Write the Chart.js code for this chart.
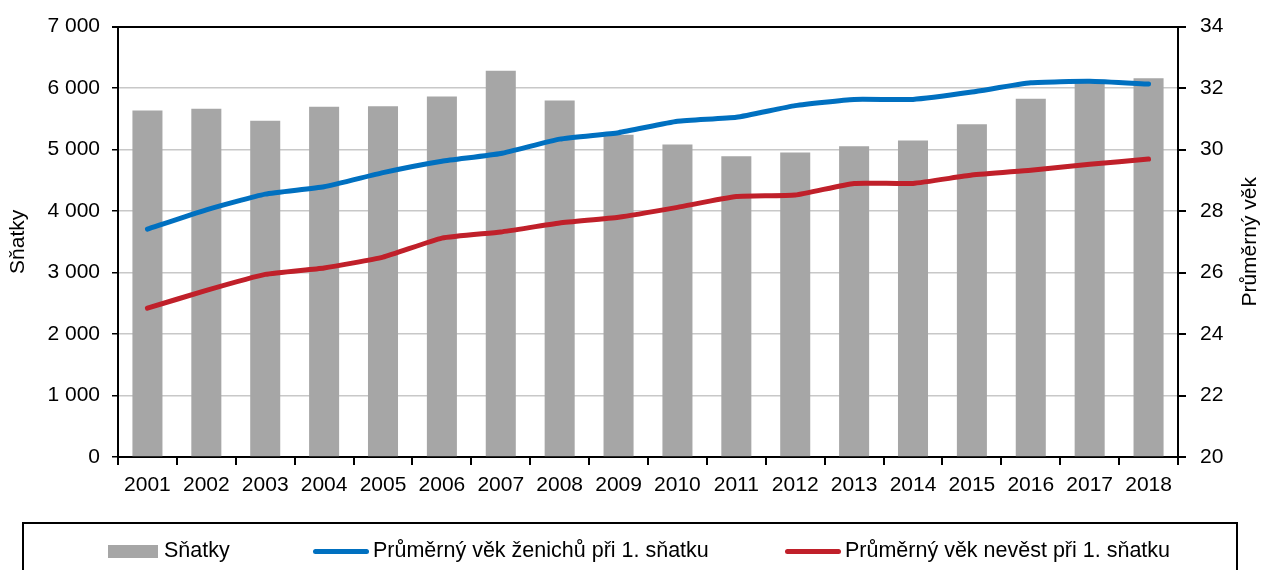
<!DOCTYPE html>
<html lang="cs">
<head>
<meta charset="utf-8">
<script src="https://cdn.jsdelivr.net/npm/chart.js@4.4.1/dist/chart.umd.min.js"></script>
<style>
  body { margin: 0; background: #fff; }
  #wrap { position: relative; width: 1263px; height: 570px; overflow: hidden; }
  #legend { position: absolute; left: 22px; top: 522px; width: 1216px; height: 70px; border: 2px solid #000; box-sizing: border-box; font-family: "Liberation Sans", Arial, sans-serif; font-size: 21.5px; color: #000; }
  .item { position: absolute; top: 13px; white-space: nowrap; line-height: 26px; }
  .mark { display: inline-block; vertical-align: middle; margin-right: 5px; }
</style>
</head>
<body>
<div id="wrap">
  <canvas id="chart" width="1263" height="570"></canvas>
  <div id="legend"></div>
</div>
<script>
// data
const years = ['2001', '2002', '2003', '2004', '2005', '2006', '2007', '2008', '2009',
    '2010', '2011', '2012', '2013', '2014', '2015', '2016', '2017', '2018'];
const snatky = [5637, 5663, 5469, 5695, 5706, 5863, 6283, 5799, 5243,
    5081, 4893, 4952, 5055, 5146, 5411, 5825, 6090, 6159];
const vekZenichu = [27.41, 28.04, 28.55, 28.79, 29.25, 29.62, 29.87, 30.34, 30.55,
    30.92, 31.05, 31.43, 31.63, 31.63, 31.87, 32.17, 32.22, 32.13];
const vekNevest = [24.84, 25.42, 25.94, 26.15, 26.5, 27.12, 27.32, 27.61, 27.80,
    28.12, 28.47, 28.52, 28.90, 28.90, 29.17, 29.33, 29.52, 29.69];
const labels = ['Sňatky', 'Průměrný věk ženichů při 1. sňatku', 'Průměrný věk nevěst při 1. sňatku'];
const leftTitle = 'Sňatky';
const rightTitle = 'Průměrný věk';

Chart.defaults.font.family = '"Liberation Sans", Arial, sans-serif';
Chart.defaults.font.size = 21;
Chart.defaults.color = '#000';

// right axis title reads bottom-to-top, chart.js would rotate it the other way
const rightTitlePlugin = {
    id: 'rightTitle',
    afterDraw(chart) {
        const ctx = chart.ctx;
        const area = chart.chartArea;
        ctx.save();
        ctx.translate(1250, (area.top + area.bottom) / 2);
        ctx.rotate(-Math.PI / 2);
        ctx.font = '21px "Liberation Sans", Arial, sans-serif';
        ctx.fillStyle = '#000';
        ctx.textAlign = 'center';
        ctx.textBaseline = 'middle';
        ctx.fillText(rightTitle, 0, 0);
        ctx.restore();
    }
};

const data = {
    labels: years,
    datasets: [{
        type: 'bar',
        label: labels[0],
        data: snatky,
        backgroundColor: '#a6a6a6',
        yAxisID: 'y',
        order: 2,
        barPercentage: 0.51,
        categoryPercentage: 1
    }, {
        type: 'line',
        label: labels[1],
        data: vekZenichu,
        borderColor: '#0070c0',
        borderWidth: 5,
        borderCapStyle: 'round',
        pointRadius: 0,
        tension: 0.15,
        yAxisID: 'y1',
        order: 1
    }, {
        type: 'line',
        label: labels[2],
        data: vekNevest,
        borderColor: '#c0202a',
        borderWidth: 5,
        borderCapStyle: 'round',
        pointRadius: 0,
        tension: 0.15,
        yAxisID: 'y1',
        order: 0
    }]
};

const config = {
    data: data,
    plugins: [rightTitlePlugin],
    options: {
        responsive: false,
        animation: false,
        layout: { padding: { top: 24, left: 0, right: 0, bottom: 0 } },
        plugins: {
            legend: { display: false },
            tooltip: { enabled: false }
        },
        scales: {
            x: {
                border: { color: '#000', width: 2 },
                grid: { offset: true, drawOnChartArea: false, tickColor: '#000', tickLength: 8, lineWidth: 2 },
                ticks: { padding: 8, maxRotation: 0, autoSkip: false },
                afterFit(scale) { scale.height = 113; }
            },
            y: {
                position: 'left',
                min: 0,
                max: 7000,
                border: { color: '#000', width: 2 },
                grid: {
                    color: (c) => c.tick && c.tick.value === 7000 ? '#000' : '#c8c8c8',
                    lineWidth: (c) => c.tick && c.tick.value === 7000 ? 2 : 1.5,
                    tickColor: '#000',
                    tickLength: 6
                },
                ticks: {
                    stepSize: 1000,
                    padding: 12,
                    callback: (v) => String(v).replace(/\B(?=(\d{3})+(?!\d))/g, ' ')
                },
                title: { display: true, text: leftTitle, padding: { top: 6, bottom: 0 } },
                afterFit(scale) { scale.width = 118; }
            },
            y1: {
                position: 'right',
                min: 20,
                max: 34,
                border: { color: '#000', width: 2 },
                grid: { drawOnChartArea: false, tickColor: '#000', tickLength: 8, lineWidth: 2 },
                ticks: { stepSize: 2, padding: 14 },
                afterFit(scale) { scale.width = 85; }
            }
        }
    }
};

const myChart = new Chart(document.getElementById('chart').getContext('2d'), config);

// legend built from the dataset settings
const legend = document.getElementById('legend');
const itemLeft = [84, 289, 761];
data.datasets.forEach((ds, i) => {
    const item = document.createElement('div');
    item.className = 'item';
    item.style.left = itemLeft[i] + 'px';
    const mark = document.createElement('span');
    mark.className = 'mark';
    if (ds.type === 'bar') {
        mark.style.width = '50px';
        mark.style.height = '13px';
        mark.style.background = ds.backgroundColor;
        mark.style.marginRight = '6px';
    } else {
        mark.style.width = '56px';
        mark.style.height = '5px';
        mark.style.borderRadius = '3px';
        mark.style.background = ds.borderColor;
        mark.style.marginRight = '4px';
    }
    item.appendChild(mark);
    item.appendChild(document.createTextNode(ds.label));
    legend.appendChild(item);
});
</script>
</body>
</html>
